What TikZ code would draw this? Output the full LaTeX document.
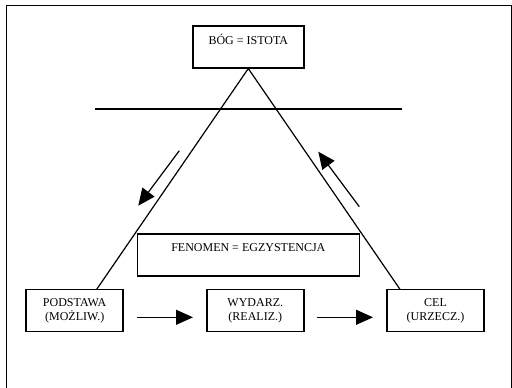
\documentclass[tikz,border=0pt]{standalone}
\usepackage{fontspec}
\setmainfont{Liberation Serif}
\usetikzlibrary{arrows.meta}

\tikzset{
	box/.style={draw, line width=1.5pt, align=center, inner sep=0pt,
		font=\fontsize{12}{14}\selectfont},
	side/.style={line width=1.2pt},
	flow/.style={line width=1.2pt, -{Triangle[length=17pt, width=15pt]}}
}

\begin{document}
\begin{tikzpicture}[x=1pt, y=-1pt]
			%%%%% START %%%%%
			\useasboundingbox (0, 0) rectangle (512, 388);
			
			\draw[line width=1pt] (6, 390) -- (6, 5) -- (511, 5) -- (511, 390);
			
			\node[box, minimum width=111pt, minimum height=42pt] (bog) at (248.3, 46.8) {BÓG = ISTOTA\\~};
			\node[box, minimum width=222pt, minimum height=42pt] (fen) at (248.3, 254.8) {FENOMEN = EGZYSTENCJA\\~};
			
			\node[box, minimum width=97pt, minimum height=42pt] (pod) at (74.7, 310.5) {PODSTAWA\\(MOŻLIW.)};
			\node[box, minimum width=97pt, minimum height=42pt] (wyd) at (255.3, 310.5) {WYDARZ.\\(REALIZ.)};
			\node[box, minimum width=97pt, minimum height=42pt] (cel) at (435.5, 310.5) {CEL\\(URZECZ.)};
			
			\coordinate (podtop) at (96.7, 289.3);
			\coordinate (celtop) at (400, 289.3);
			\draw[side] (podtop) -- (bog.south) -- (celtop);
			
			\coordinate (hl) at (95, 109);
			\coordinate (hr) at (401.7, 109);
			\draw[side] (hl) -- (hr);
			
			\coordinate (la) at (179.3, 150.7);
			\coordinate (lb) at (138.3, 205.7);
			\draw[flow] (la) -- (lb);
			\coordinate (ra) at (359.3, 206.7);
			\coordinate (rb) at (318.3, 151.7);
			\draw[flow] (ra) -- (rb);
			
			\coordinate (pa) at (136.7, 317.3);
			\coordinate (pb) at (193, 317.3);
			\coordinate (wa) at (316.7, 317.3);
			\coordinate (wb) at (373, 317.3);
			\draw[flow] (pa) -- (pb);
			\draw[flow] (wa) -- (wb);
			%%%%% END %%%%%
\end{tikzpicture}
\end{document}
